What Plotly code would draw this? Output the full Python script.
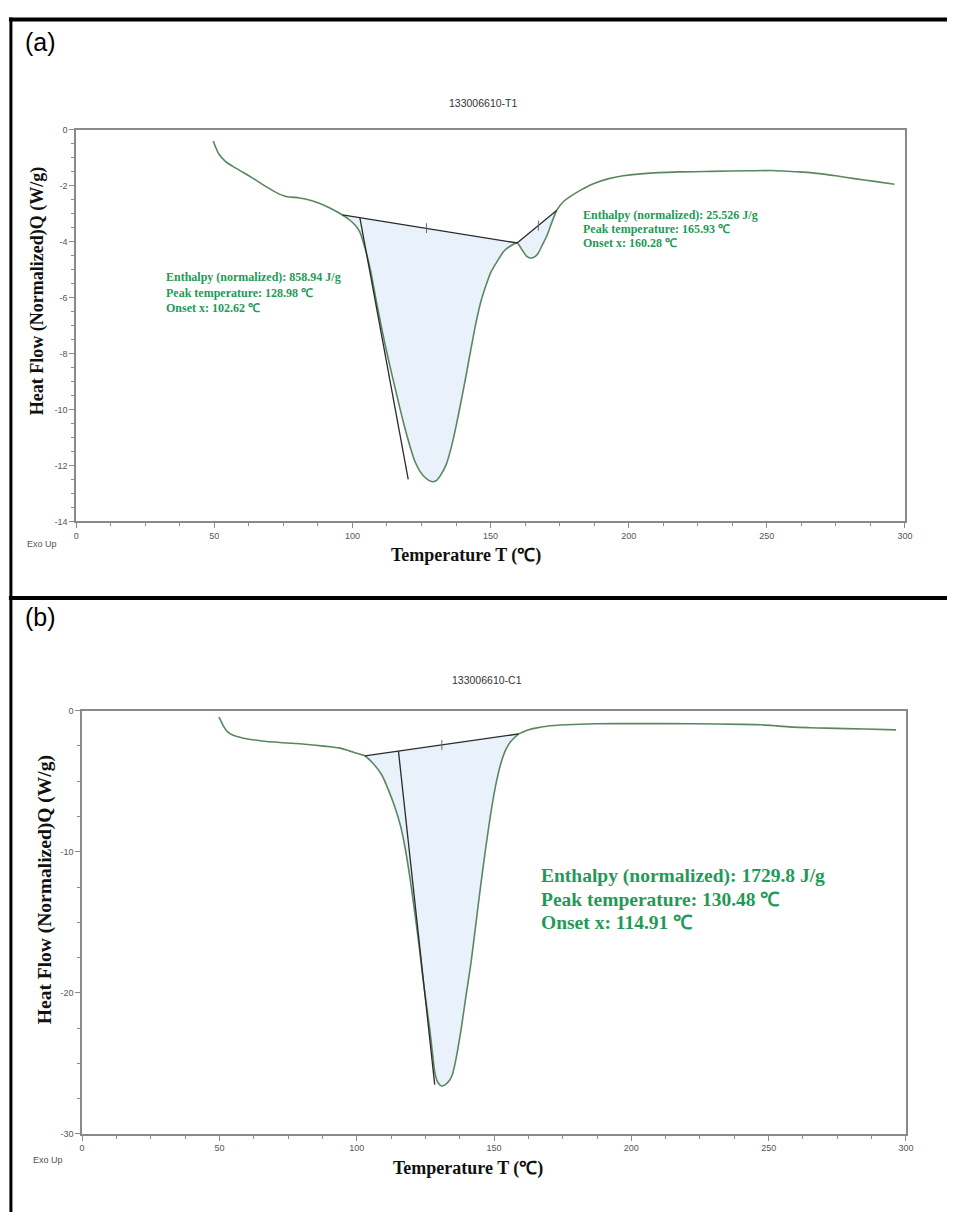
import numpy as np
import plotly.graph_objects as go

W, H = 955, 1217

# ---------------- Panel (a) data: 133006610-T1 ----------------
temp_a = [49.6, 49.8, 50.5, 51.6, 54.0, 57.0, 60.5, 64.2, 68.0, 72.5, 76.0, 80.9, 85.0, 88.0,
          92.0, 96.4, 99.0, 101.1, 102.7, 104.7, 106.5, 108.3, 110.0, 111.9, 113.7, 115.5,
          117.3, 119.0, 120.8, 122.6, 124.4, 126.2, 128.0, 129.2, 130.6, 132.1, 134.0, 135.7,
          137.5, 139.3, 141.1, 142.9, 144.6, 146.4, 148.2, 150.0, 152.4, 154.8, 157.2, 159.6,
          161.5, 163.1, 164.9, 166.2, 167.3, 168.8, 170.3, 172.0, 173.9, 176.5, 178.5, 182.6,
          187.0, 192.8, 198.0, 205.4, 218.0, 230.0, 243.5, 252.0, 256.2, 262.0, 268.9, 275.0,
          281.6, 289.0, 296.2]
heat_a = [-0.40, -0.44, -0.62, -0.85, -1.12, -1.32, -1.52, -1.74, -1.98, -2.24, -2.38, -2.43,
          -2.52, -2.62, -2.80, -3.04, -3.22, -3.42, -3.65, -4.28, -5.00, -5.94, -6.80, -7.71,
          -8.50, -9.25, -10.00, -10.67, -11.30, -11.85, -12.20, -12.42, -12.55, -12.58, -12.52,
          -12.32, -11.95, -11.38, -10.60, -9.72, -8.80, -7.83, -6.95, -6.17, -5.60, -5.11,
          -4.70, -4.34, -4.15, -4.04, -4.30, -4.52, -4.58, -4.52, -4.40, -4.10, -3.80, -3.35,
          -2.88, -2.55, -2.40, -2.15, -1.93, -1.74, -1.64, -1.56, -1.50, -1.48, -1.46, -1.45,
          -1.47, -1.50, -1.56, -1.64, -1.74, -1.84, -1.94]
base1_a_T = [96.4, 159.6]
base1_a_Q = [-3.04, -4.04]
onset_a_T = [102.7, 120.2]
onset_a_Q = [-3.14, -12.5]
base2_a_T = [159.6, 173.9]
base2_a_Q = [-4.04, -2.88]
tick_a_T = [126.8, 167.3]
tick_a_Q = [-3.51, -3.42]
title_a = "133006610-T1"
ann_a_left = ["Enthalpy (normalized): 858.94 J/g", "Peak temperature: 128.98 \u2103", "Onset x: 102.62 \u2103"]
ann_a_right = ["Enthalpy (normalized): 25.526 J/g", "Peak temperature: 165.93 \u2103", "Onset x: 160.28 \u2103"]
yticks_a = [0, -2, -4, -6, -8, -10, -12, -14]

# ---------------- Panel (b) data: 133006610-C1 ----------------
temp_b = [49.8, 50.5, 51.5, 52.8, 55.0, 58.8, 63.0, 67.2, 73.0, 79.2, 85.0, 91.2, 93.6, 97.2,
          100.0, 103.0, 106.0, 109.2, 111.5, 114.0, 116.0, 117.6, 119.5, 121.2, 122.8, 124.2,
          125.5, 126.6, 127.6, 128.4, 129.4, 130.8, 132.3, 133.8, 134.8, 135.6, 136.8, 138.0,
          139.8, 141.6, 143.4, 145.2, 147.0, 148.8, 150.6, 152.4, 154.2, 156.0, 157.5, 159.0,
          161.0, 163.2, 165.6, 169.2, 176.4, 187.2, 200.0, 223.0, 240.0, 247.0, 253.0, 259.0,
          265.0, 271.0, 285.0, 296.4]
heat_b = [-0.46, -0.70, -1.10, -1.47, -1.75, -1.95, -2.08, -2.19, -2.27, -2.35, -2.45, -2.58,
          -2.64, -2.85, -3.02, -3.21, -3.75, -4.58, -5.60, -6.90, -8.20, -9.70, -12.00, -14.40,
          -16.80, -19.10, -21.00, -22.60, -24.30, -25.60, -26.30, -26.60, -26.50, -26.20,
          -25.80, -25.20, -24.00, -22.60, -20.20, -17.90, -15.10, -12.30, -9.70, -7.30, -5.30,
          -3.80, -2.80, -2.20, -1.90, -1.65, -1.48, -1.32, -1.22, -1.10, -1.00, -0.93, -0.92,
          -0.93, -0.97, -1.00, -1.08, -1.17, -1.21, -1.24, -1.30, -1.36]
base_b_T = [103.0, 159.0]
base_b_Q = [-3.21, -1.65]
onset_b_T = [115.2, 128.4]
onset_b_Q = [-2.87, -26.5]
tick_b_T = [131.0]
tick_b_Q = [-2.43]
title_b = "133006610-C1"
ann_b = ["Enthalpy (normalized): 1729.8 J/g", "Peak temperature: 130.48 \u2103", "Onset x: 114.91 \u2103"]
yticks_b = [0, -10, -20, -30]

xticks = [0, 50, 100, 150, 200, 250, 300]

# ---------------- styles ----------------
CURVE = "#5a8760"
BASE = "#2a2a2a"
FILL = "rgba(226,236,248,0.75)"
GREEN = "#1f9a57"
AXC = "#8a8a8a"
SERIF = "Liberation Serif, Times New Roman, serif"
SANS = "Arial, Liberation Sans, sans-serif"


def pxx(x):
    return x / W


def pyy(y):
    return 1 - y / H


def fill_poly(T, Q, bT, bQ):
    T = np.asarray(T)
    Q = np.asarray(Q)
    m = (T >= bT[0] - 1e-9) & (T <= bT[1] + 1e-9)
    xs = list(T[m]) + [bT[1], bT[0]]
    ys = list(Q[m]) + [bQ[1], bQ[0]]
    return xs, ys


fig = go.Figure()


def add_panel(xa, ya, T, Q, bases, onset, ticks):
    for bT, bQ in bases:
        fx, fy = fill_poly(T, Q, bT, bQ)
        fig.add_trace(go.Scatter(x=fx, y=fy, mode="lines", fill="toself", fillcolor=FILL,
                                 line=dict(width=0), hoverinfo="skip", showlegend=False,
                                 xaxis=xa, yaxis=ya))
    fig.add_trace(go.Scatter(x=T, y=Q, mode="lines",
                             line=dict(color=CURVE, width=1.6, shape="spline", smoothing=0.6),
                             showlegend=False, xaxis=xa, yaxis=ya))
    for bT, bQ in bases:
        fig.add_trace(go.Scatter(x=bT, y=bQ, mode="lines", line=dict(color=BASE, width=1.3),
                                 showlegend=False, xaxis=xa, yaxis=ya))
    fig.add_trace(go.Scatter(x=onset[0], y=onset[1], mode="lines", line=dict(color=BASE, width=1.3),
                             showlegend=False, xaxis=xa, yaxis=ya))
    fig.add_trace(go.Scatter(x=ticks[0], y=ticks[1], mode="markers",
                             marker=dict(symbol="line-ns", size=7, line=dict(color="#666", width=1)),
                             showlegend=False, xaxis=xa, yaxis=ya))


add_panel("x", "y", temp_a, heat_a,
          [(base1_a_T, base1_a_Q), (base2_a_T, base2_a_Q)],
          (onset_a_T, onset_a_Q), (tick_a_T, tick_a_Q))
add_panel("x2", "y2", temp_b, heat_b,
          [(base_b_T, base_b_Q)],
          (onset_b_T, onset_b_Q), (tick_b_T, tick_b_Q))

tickfont = dict(family=SANS, size=9, color="#555")


def xaxis_cfg(domain, anchor):
    return dict(domain=domain, anchor=anchor, range=[0, 300], tickvals=xticks,
                ticktext=[str(v) for v in xticks], showgrid=False, zeroline=False,
                showline=True, linecolor=AXC, linewidth=1.5, mirror=True,
                ticks="outside", ticklen=5, tickcolor=AXC, tickfont=tickfont,
                minor=dict(tickmode="linear", tick0=0, dtick=12.5, ticks="outside",
                           ticklen=3, tickcolor=AXC))


def yaxis_cfg(domain, anchor, rng, tv, mdt):
    return dict(domain=domain, anchor=anchor, range=rng, tickvals=tv,
                ticktext=[str(v) for v in tv], showgrid=False, zeroline=False,
                showline=True, linecolor=AXC, linewidth=1.5, mirror=True,
                ticks="outside", ticklen=5, tickcolor=AXC, tickfont=tickfont,
                minor=dict(tickmode="linear", tick0=0, dtick=mdt, ticks="outside",
                           ticklen=3, tickcolor=AXC))


fig.update_layout(
    width=W, height=H, margin=dict(l=0, r=0, t=0, b=0),
    paper_bgcolor="white", plot_bgcolor="white",
    xaxis=xaxis_cfg([pxx(74), pxx(912.5)], "y"),
    yaxis=yaxis_cfg([pyy(520.7), pyy(126)], "x", [-14, 0], yticks_a, 0.5),
    xaxis2=xaxis_cfg([pxx(80), pxx(913.5)], "y2"),
    yaxis2=yaxis_cfg([pyy(1138.3), pyy(711.5)], "x2", [-30, 0], yticks_b, 2.5),
)

anns = []


def paper_text(text, x, y, size, family, color, bold=False, angle=0, xanchor="center"):
    anns.append(dict(text=("<b>%s</b>" % text) if bold else text, x=pxx(x), y=pyy(y),
                     xref="paper", yref="paper", showarrow=False, textangle=angle,
                     xanchor=xanchor, yanchor="middle",
                     font=dict(size=size, family=family, color=color)))


# panel labels
paper_text("(a)", 20, 37, 25, SANS, "black", xanchor="left")
paper_text("(b)", 20, 617, 25, SANS, "black", xanchor="left")
# titles
paper_text(title_a, 486, 99, 10.5, SANS, "#333")
paper_text(title_b, 490, 681, 10.5, SANS, "#333")
# axis titles
paper_text("Heat Flow (Normalized)Q (W/g)", 35, 289, 18, SERIF, "#111", bold=True, angle=-90)
paper_text("Heat Flow (Normalized)Q (W/g)", 42, 892, 19.5, SERIF, "#111", bold=True, angle=-90)
paper_text("Temperature T (\u2103)", 468, 555, 18, SERIF, "#111", bold=True)
paper_text("Temperature T (\u2103)", 470, 1173, 18, SERIF, "#111", bold=True)
# Exo Up
paper_text("Exo Up", 57, 543, 9, SANS, "#555", xanchor="right")
paper_text("Exo Up", 63, 1165, 9, SANS, "#555", xanchor="right")


def data_lines(lines, xa, ya, x0, ys, size):
    for t, yv in zip(lines, ys):
        anns.append(dict(text="<b>%s</b>" % t, x=x0, y=yv, xref=xa, yref=ya, showarrow=False,
                         xanchor="left", yanchor="middle",
                         font=dict(size=size, family=SERIF, color=GREEN)))


data_lines(ann_a_left, "x", "y", 31.7, [-5.25, -5.84, -6.35], 12)
data_lines(ann_a_right, "x", "y", 182.6, [-3.04, -3.54, -4.05], 12)
data_lines(ann_b, "x2", "y2", 166.3, [-11.7, -13.37, -15.0], 19.5)

fig.update_layout(annotations=anns)

# outer frame lines
shapes = [
    dict(type="line", xref="paper", yref="paper", x0=pxx(6), x1=1, y0=pyy(14.5), y1=pyy(14.5),
         line=dict(color="black", width=4)),
    dict(type="line", xref="paper", yref="paper", x0=pxx(8), x1=pxx(8), y0=pyy(12.5), y1=0,
         line=dict(color="black", width=3)),
    dict(type="line", xref="paper", yref="paper", x0=pxx(6), x1=1, y0=pyy(598), y1=pyy(598),
         line=dict(color="black", width=4)),
]
fig.update_layout(shapes=shapes)

fig.write_html("out.html", config={"displayModeBar": False},
               post_script="document.body.style.margin='0px';")
